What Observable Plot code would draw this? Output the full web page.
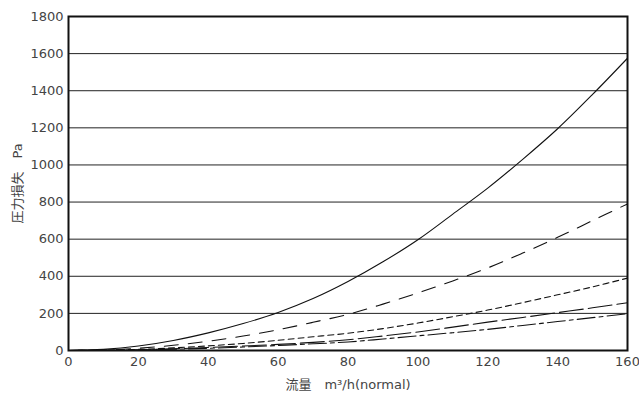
<!DOCTYPE html>
<html>
<head>
<meta charset="utf-8">
<script src="https://cdn.jsdelivr.net/npm/d3@7"></script>
<script src="https://cdn.jsdelivr.net/npm/@observablehq/plot@0.6"></script>
<style>
  html, body { margin: 0; padding: 0; background: #fff; }
</style>
</head>
<body>
<div id="chart"></div>
<script>
const flow = [0, 10, 20, 30, 40, 50, 60, 70, 80, 90, 100, 110, 120, 130, 140, 150, 160];
const seriesA = [0, 6, 24, 54, 95, 145, 205, 280, 372, 478, 597, 735, 875, 1030, 1195, 1380, 1575];
const seriesB = [0, 3, 12, 28, 50, 78, 112, 152, 195, 250, 310, 375, 445, 525, 610, 700, 790];
const seriesC = [0, 2, 6, 14, 25, 38, 55, 74, 93, 118, 148, 182, 218, 258, 300, 343, 390];
const seriesD = [0, 1, 4, 9, 16, 24, 33, 44, 58, 78, 100, 126, 153, 178, 204, 230, 257];
const seriesE = [0, 1, 3, 7, 12, 19, 27, 36, 46, 62, 79, 96, 114, 135, 156, 177, 198];
const xTicks = [0, 20, 40, 60, 80, 100, 120, 140, 160];
const yTicks = [0, 200, 400, 600, 800, 1000, 1200, 1400, 1600, 1800];

const dashes = ["none", "14,10", "6,4", "24,5", "18,4,4,4"];
const all = [seriesA, seriesB, seriesC, seriesD, seriesE];

const rows = (vals) => flow.map((q, i) => ({q, p: vals[i]}));

const chart = Plot.plot({
  width: 639,
  height: 396,
  marginLeft: 68,
  marginRight: 12,
  marginTop: 16,
  marginBottom: 46,
  style: {fontFamily: "'DejaVu Sans', 'Noto Sans CJK JP', sans-serif", fontSize: "13px", color: "#444", background: "#fff"},
  x: {domain: [0, 160]},
  y: {domain: [0, 1800]},
  marks: [
    Plot.ruleY(yTicks.filter(d => d > 0 && d < 1800), {stroke: "#222", strokeWidth: 1}),
    ...all.map((s, i) => Plot.line(rows(s), {x: "q", y: "p", stroke: "#111", strokeWidth: 1.1, strokeDasharray: dashes[i], curve: "catmull-rom"})),
    Plot.axisX({ticks: xTicks, tickSize: 0, tickPadding: 6, tickFormat: d => String(d), label: "流量　m³/h(normal)", labelAnchor: "center", labelOffset: 38, labelArrow: false, fontSize: 13}),
    Plot.axisY({ticks: yTicks, tickSize: 0, tickPadding: 5, tickFormat: d => String(d), label: "圧力損失　Pa", labelAnchor: "center", labelOffset: 56, labelArrow: false, fontSize: 13}),
    Plot.frame({stroke: "#111", strokeWidth: 2})
  ]
});
document.getElementById("chart").appendChild(chart);
</script>
</body>
</html>
